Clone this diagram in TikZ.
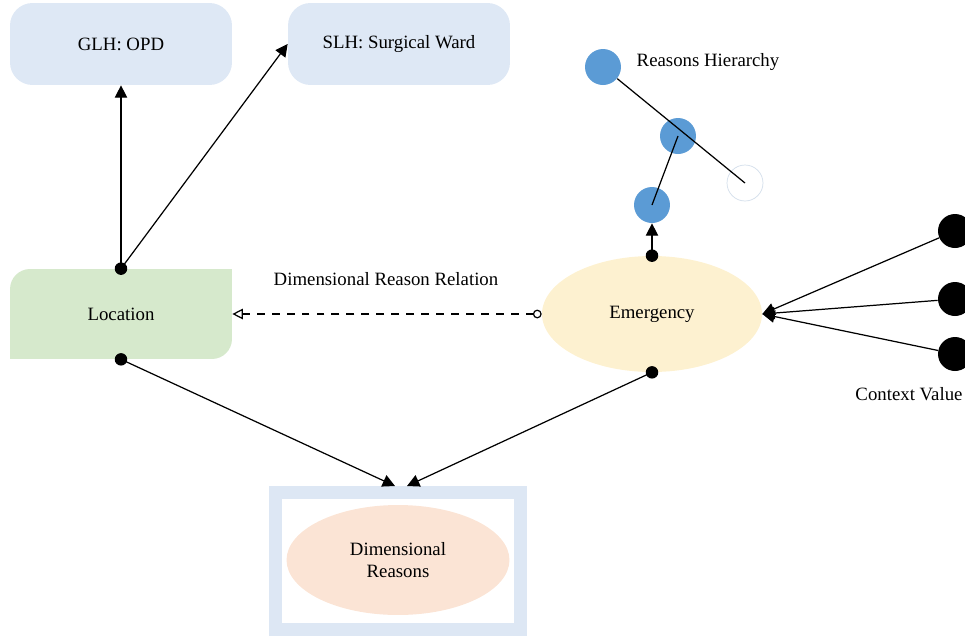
\documentclass[tikz,border=0pt]{standalone}
\usepackage{fontspec}
\setmainfont{Liberation Serif}
\usetikzlibrary{arrows.meta,shapes.geometric}
\definecolor{boxblue}{HTML}{DEE8F5}
\definecolor{frameblue}{HTML}{DDE7F4}
\definecolor{locgreen}{HTML}{D6E9CC}
\definecolor{emgyellow}{HTML}{FDF1D0}
\definecolor{reasonpeach}{HTML}{FBE4D5}
\definecolor{hierblue}{HTML}{5B9BD5}
\definecolor{ringgrey}{HTML}{D3DEEB}
\tikzstyle{hier} = [rectangle, rounded corners=0.45cm, minimum width=4.44cm, minimum height=1.64cm, fill=boxblue]
\tikzstyle{loc} = [rectangle, rounded corners=0.4cm, minimum width=4.44cm, minimum height=1.8cm, fill=locgreen]
\tikzstyle{emg} = [ellipse, minimum width=4.4cm, minimum height=2.32cm, fill=emgyellow]
\tikzstyle{reason} = [ellipse, minimum width=4.46cm, minimum height=2.2cm, fill=reasonpeach, align=center]
\tikzstyle{reasonframe} = [rectangle, minimum width=4.9cm, minimum height=2.74cm, draw=frameblue, line width=0.26cm]
\tikzstyle{dot} = [circle, fill=black, inner sep=0pt, minimum size=0.25cm]
\tikzstyle{ctx} = [circle, fill=black, inner sep=0pt, minimum size=0.68cm]
\tikzstyle{rnode} = [circle, fill=hierblue, inner sep=0pt, minimum size=0.72cm]
\tikzstyle{arrow} = [line width=0.7pt,-{Triangle[length=7pt,width=7pt]}]
\tikzstyle{relation} = [line width=0.7pt, dash pattern=on 4.5pt off 4pt, {Circle[open,length=5pt,width=5pt]}-{Triangle[open,length=6pt,width=6pt]}]

\begin{document}
\begin{tikzpicture}[x=0.02cm, y=-0.02cm, every node/.style={font=\fontsize{10.7}{13}\selectfont}]
	\useasboundingbox (0,0) rectangle (965,637);

	\node (glh) [hier] at (121,44) {GLH: OPD};
	\node (slh) [hier] at (399,44) {SLH: Surgical Ward};
	\node (loc) [loc] at (121,314) {Location};
	\fill[locgreen] (loc.north east) rectangle ++(-20,20);
	\fill[locgreen] (loc.south west) rectangle ++(20,-20);
	\node (emg) [emg] at (652,314) {Emergency};
	\node (frame) [reasonframe] at (398,561) {};
	\node (reasons) [reason] at (398,560) {Dimensional\\Reasons};

	\node (loctop) [dot] at (loc.north) {};
	\node (locbot) [dot] at (loc.south) {};
	\node (emgtop) [dot] at (emg.north) {};
	\node (emgbot) [dot] at (emg.south) {};

	% reasons hierarchy
	\node (r1) [rnode] at (603,67) {};
	\node (r2) [rnode] at (678,136) {};
	\node (r3) [rnode] at (652,205) {};
	\node (r4) [circle, draw=ringgrey, fill=white, inner sep=0pt, minimum size=0.72cm] at (745,183) {};
	\node (hierlabel) at (708,62) {Reasons Hierarchy};
	\draw[line width=0.7pt] (r1) -- (r4.center);
	\draw[line width=0.7pt] (r2.center) -- (r3.center);

	% context values
	\node (c1) [ctx] at (955,231) {};
	\node (c2) [ctx] at (955,299) {};
	\node (c3) [ctx] at (955,354) {};
	\node (ctxlabel) at (909,394) {Context Value};

	\node (rellabel) at (386,279) {Dimensional Reason Relation};

	\draw [arrow] (loctop.center) -- (glh);
	\draw [arrow] (loctop.center) -- (slh.west);
	\draw [arrow] (emgtop.center) -- (r3);
	\draw [arrow] (c1) -- (emg.east);
	\draw [arrow] (c2) -- (emg.east);
	\draw [arrow] (c3) -- (emg.east);
	\draw [relation] (emg.west) -- (loc.east);
	\draw [arrow] (locbot.center) -- ([xshift=-0.06cm]frame.north);
	\draw [arrow] (emgbot.center) -- ([xshift=0.18cm]frame.north);

\end{tikzpicture}
\end{document}
